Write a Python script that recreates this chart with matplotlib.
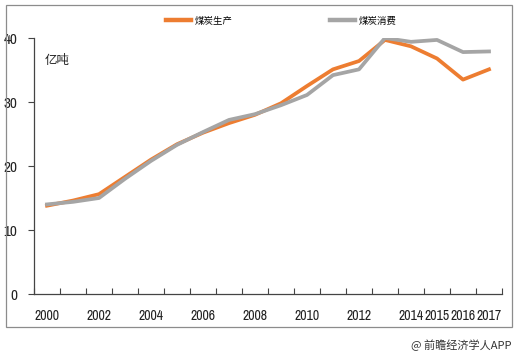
import matplotlib
matplotlib.use("Agg")
import matplotlib.pyplot as plt
from matplotlib.patches import Rectangle
import numpy as np

# data (unit: 100 million tonnes)
years = [2000, 2001, 2002, 2003, 2004, 2005, 2006, 2007, 2008,
         2009, 2010, 2011, 2012, 2013, 2014, 2015, 2016, 2017]
production = [13.8, 14.6, 15.6, 18.3, 21.0, 23.4, 25.2, 26.7, 28.0,
              29.8, 32.5, 35.1, 36.4, 39.7, 38.7, 36.8, 33.5, 35.1]
consumption = [14.0, 14.4, 15.0, 18.0, 20.8, 23.3, 25.3, 27.2, 28.1,
               29.5, 31.1, 34.2, 35.1, 40.0, 39.4, 39.7, 37.8, 37.9]
shown_labels = [2000, 2002, 2004, 2006, 2008, 2010, 2012, 2014, 2015, 2016, 2017]

num_font = ["Liberation Sans Narrow", "Archivo Narrow", "PT Sans Narrow",
            "Roboto Condensed", "DejaVu Sans"]
cjk_font = ["Noto Sans CJK SC", "DejaVu Sans"]

fig = plt.figure(figsize=(5.18, 3.56), dpi=100)
ax = fig.add_axes([34 / 518, 62 / 356, 468 / 518, 256 / 356])

x = np.arange(len(years))
ax.plot(x, production, color="#ED7D31", lw=2.7, label="煤炭生产", solid_joinstyle="round")
ax.plot(x, consumption, color="#A5A5A5", lw=2.7, label="煤炭消费", solid_joinstyle="round")

ax.set_xlim(-0.5, len(years) - 0.5)
ax.set_ylim(0, 40)

# x axis: labels at category centres, tick marks on the boundaries
ax.set_xticks([years.index(y) for y in shown_labels])
ax.set_xticklabels([str(y) for y in shown_labels], fontfamily=num_font, fontsize=10)
ax.set_xticks(np.arange(-0.5, len(years)), minor=True)
ax.tick_params(axis="x", which="major", length=0, pad=11, labelcolor="#222222")
ax.tick_params(axis="x", which="minor", direction="in", length=4, width=0.8, color="#444444")

ax.set_yticks([0, 10, 20, 30, 40])
ax.set_yticklabels(["0", "10", "20", "30", "40"], fontfamily=num_font, fontsize=11)
ax.tick_params(axis="y", direction="out", length=4, width=0.8, color="#444444", pad=8,
               labelcolor="#222222")

for s in ["top", "right"]:
    ax.spines[s].set_visible(False)
for s in ["left", "bottom"]:
    ax.spines[s].set_color("#444444")
    ax.spines[s].set_linewidth(0.9)

ax.text(11 / 468, 0.914, "亿吨", transform=ax.transAxes, fontfamily=cjk_font,
        fontsize=9, va="center", ha="left", color="#222222")

leg = fig.legend(loc="center", bbox_to_anchor=(0.543, 0.941), ncol=2, frameon=False,
                 prop={"family": cjk_font, "size": 6.8}, handlelength=2.7,
                 handletextpad=0.35, columnspacing=10.3)
for line in leg.get_lines():
    line.set_linewidth(3.2)

# frame around the whole chart
fig.patches.append(Rectangle((6 / 518, (356 - 327) / 356), 506 / 518, 322 / 356,
                             transform=fig.transFigure, fill=False,
                             edgecolor="#8c8c8c", lw=0.9))

fig.text(0.988, (356 - 345) / 356, "@ 前瞻经济学人APP", fontfamily=cjk_font,
         fontsize=8, ha="right", va="center", color="#333333")

fig.savefig("out.png", dpi=100)
